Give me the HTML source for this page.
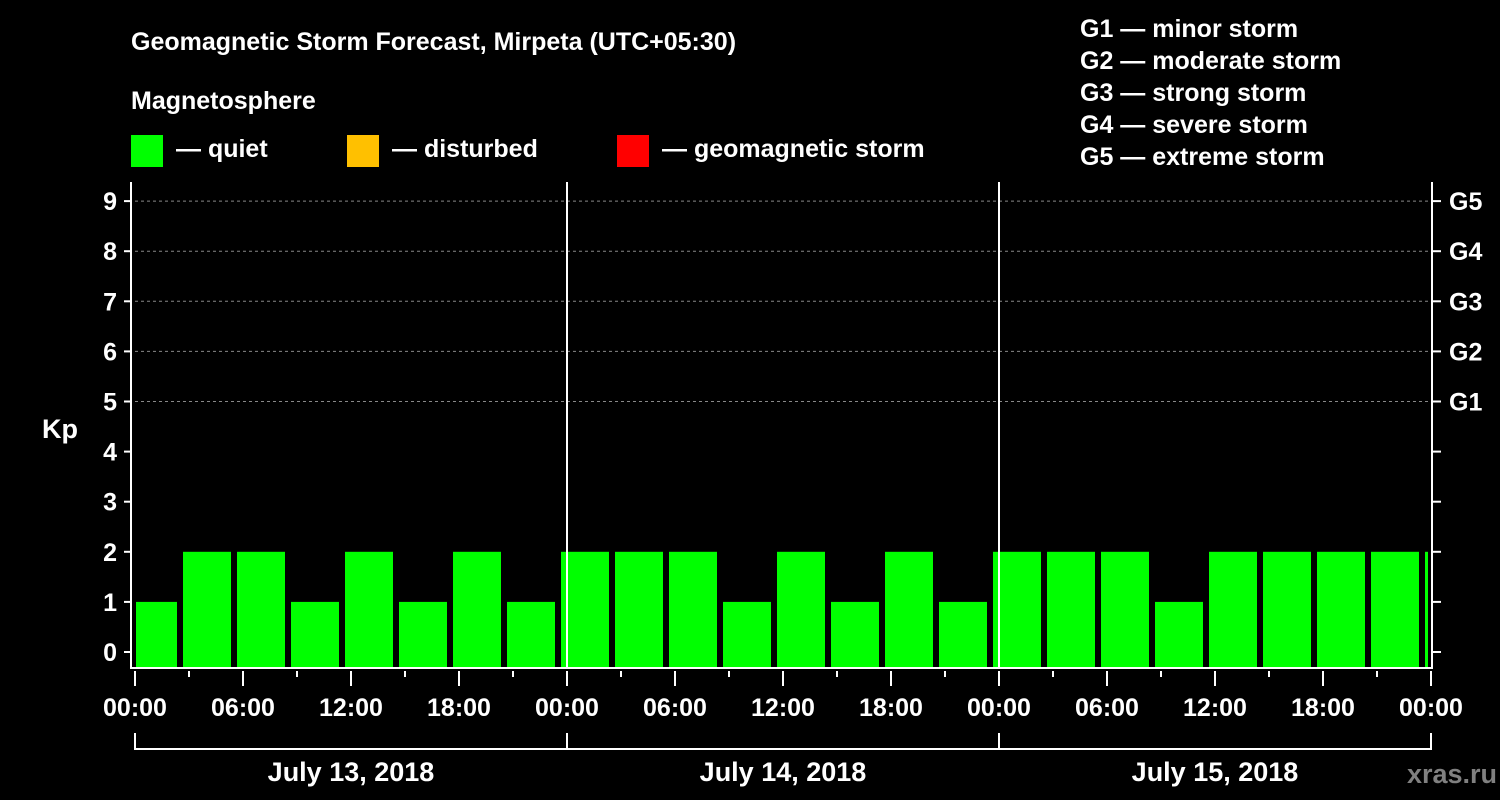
<!DOCTYPE html>
<html><head><meta charset="utf-8"><style>
html,body{margin:0;padding:0;background:#000;}
svg{display:block;font-family:"Liberation Sans",sans-serif;font-weight:bold;}
</style></head><body>
<svg width="1500" height="800" viewBox="0 0 1500 800">
<rect width="1500" height="800" fill="#000"/>
<text x="131" y="50" fill="#fff" font-size="25">Geomagnetic Storm Forecast, Mirpeta (UTC+05:30)</text>
<text x="131" y="109" fill="#fff" font-size="25">Magnetosphere</text>
<g><rect x="131" y="135" width="32" height="32" fill="#00ff00"/><text x="176" y="157" fill="#fff" font-size="25">— quiet</text></g>
<g><rect x="347" y="135" width="32" height="32" fill="#ffc000"/><text x="392" y="157" fill="#fff" font-size="25">— disturbed</text></g>
<g><rect x="617" y="135" width="32" height="32" fill="#ff0000"/><text x="662" y="157" fill="#fff" font-size="25">— geomagnetic storm</text></g>
<g fill="#fff" font-size="25">
<text x="1080" y="37">G1 — minor storm</text>
<text x="1080" y="69">G2 — moderate storm</text>
<text x="1080" y="101">G3 — strong storm</text>
<text x="1080" y="133">G4 — severe storm</text>
<text x="1080" y="165">G5 — extreme storm</text>
</g>
<text x="42" y="438" fill="#fff" font-size="27">Kp</text>
<text x="1497" y="783" fill="#808080" font-size="27" text-anchor="end">xras.ru</text>
<g id="plot"></g>
</svg>
<script>
const kpValues=[1,2,2,1,2,1,2,1,2,2,2,1,2,1,2,1,2,2,2,1,2,2,2,2,2];
const yTicks=[0,1,2,3,4,5,6,7,8,9];
const gLabels=["G1","G2","G3","G4","G5"];
const gLevels=[5,6,7,8,9];
const hourLabels=["00:00","06:00","12:00","18:00","00:00","06:00","12:00","18:00","00:00","06:00","12:00","18:00","00:00"];
const dayLabels=["July 13, 2018","July 14, 2018","July 15, 2018"];
const NS="http://www.w3.org/2000/svg";
const g=document.getElementById('plot');
const X0=135,PXH=18,XEND=X0+72*PXH,TOP=182,BOT=668;
function x(h){return X0+h*PXH;}
function y(v){return 652-v*50.1;}
function mk(t,a,txt){const e=document.createElementNS(NS,t);for(const k in a)e.setAttribute(k,a[k]);if(txt!=null)e.textContent=txt;g.appendChild(e);return e;}
// grid
gLevels.forEach(v=>{const e=mk('line',{x1:X0,x2:XEND,y1:y(v),y2:y(v),stroke:'#888','stroke-dasharray':'3,3','stroke-width':1});

});
// bars
kpValues.forEach((v,i)=>{
 let s=-0.5+3*i, e2=s+3;
 let x1=Math.max(x(s)+3,X0+1), x2=Math.min(x(e2)-3,XEND-3);
 const r=mk('rect',{x:x1,y:y(v),width:x2-x1,height:BOT-y(v),fill:'#00ff00'});
 
 
});
// day separators
[1,2].forEach(d=>{const e=mk('line',{x1:x(24*d),x2:x(24*d),y1:TOP,y2:BOT,stroke:'#fff','stroke-width':2});

});
// axes
let a=mk('path',{d:`M131 ${TOP}V${BOT}H1432V${TOP}`,fill:'none',stroke:'#fff','stroke-width':2});


yTicks.forEach(v=>{
 mk('line',{x1:124,x2:131,y1:y(v),y2:y(v),stroke:'#fff','stroke-width':2});
 mk('line',{x1:1432,x2:1441,y1:y(v),y2:y(v),stroke:'#fff','stroke-width':2});
 const t=mk('text',{x:117,y:y(v)+9,fill:'#fff','font-size':25,'text-anchor':'end'},String(v));
 
 
});
gLabels.forEach((l,i)=>{const t=mk('text',{x:1449,y:y(gLevels[i])+9,fill:'#fff','font-size':25},l);

});
for(let h=0;h<=72;h+=3){const maj=h%6===0;mk('line',{x1:x(h),x2:x(h),y1:BOT+3,y2:maj?686:677,stroke:'#fff','stroke-width':2});}
hourLabels.forEach((l,i)=>{const t=mk('text',{x:x(i*6),y:716,fill:'#fff','font-size':25,'text-anchor':'middle'},l);

});
let b=mk('path',{d:`M${x(0)} 733V749H${x(72)}V733M${x(24)} 733V749M${x(48)} 733V749`,fill:'none',stroke:'#fff','stroke-width':2});


dayLabels.forEach((l,i)=>{const t=mk('text',{x:x(24*i+12),y:781,fill:'#fff','font-size':27,'text-anchor':'middle'},l);

});
</script>
</body></html>
